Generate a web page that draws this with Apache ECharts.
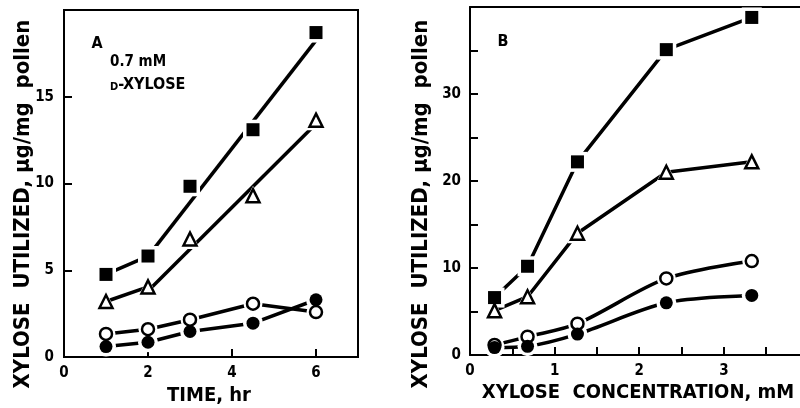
<!DOCTYPE html>
<html>
<head>
<meta charset="utf-8">
<script src="https://cdn.jsdelivr.net/npm/echarts@6/dist/echarts.min.js"></script>
<style>
html,body{margin:0;padding:0;background:#fff;}
#chart{width:800px;height:408px;}
</style>
</head>
<body>
<div id="chart"></div>
<script>
// panel A: time course at 0.7 mM D-xylose
var timeA = [1, 2, 3, 4.5, 6];
var aSquare = [4.76, 5.82, 9.84, 13.1, 18.7];
var aTriangle = [3.2, 4.04, 6.8, 9.3, 13.65];
var aOpen = [1.33, 1.6, 2.15, 3.07, 2.59];
var aFilled = [0.6, 0.85, 1.47, 1.95, 3.3];
// straight lines drawn through the 2-6 hr points
var fitX = [2, 6];
var aSquareFit = [5.8, 18.25];
var aTriangleFit = [3.8, 13.45];

// panel B: concentration dependence
var concB = [0.29, 0.68, 1.27, 2.32, 3.33];
var bSquare = [6.6, 10.2, 22.2, 35.1, 38.8];
var bTriangle = [5.1, 6.7, 14.0, 21.0, 22.2];
var bOpen = [1.15, 2.1, 3.6, 8.8, 10.8];
var bFilled = [0.85, 1.0, 2.4, 6.0, 6.85];

var FONT = "'DejaVu Sans Condensed', 'DejaVu Sans', sans-serif";

var marks = {
	square:   {symbol:'rect',     size:13, fill:'#000', border:0},
	triangle: {symbol:'triangle', size:13, fill:'#fff', border:2.5},
	open:     {symbol:'circle',   size:12, fill:'#fff', border:2.5},
	filled:   {symbol:'circle',   size:13, fill:'#000', border:0}
};

function pairs(xs, ys){
	var out = [];
	for(var i=0;i<xs.length;i++) out.push([xs[i], ys[i]]);
	return out;
}

function line(g, data, smooth){
	return {
		type:'line', xAxisIndex:g, yAxisIndex:g, data:data,
		showSymbol:false, smooth:smooth||false, z:2, silent:true,
		lineStyle:{color:'#000', width:3.5}
	};
}

// line + white halo (gap round the marker) + marker
function plotted(g, xs, ys, kind, withLine, smooth){
	var m = marks[kind];
	var data = pairs(xs, ys);
	var list = [];
	if(withLine) list.push(line(g, data, smooth));
	list.push({
		type:'scatter', xAxisIndex:g, yAxisIndex:g, data:data, z:3, silent:true,
		symbol:m.symbol, symbolSize:m.size+7, itemStyle:{color:'#fff', opacity:1}
	});
	list.push({
		type:'scatter', xAxisIndex:g, yAxisIndex:g, data:data, z:4, silent:true,
		symbol:m.symbol, symbolSize:m.size,
		itemStyle:{color:m.fill, borderColor:'#000', borderWidth:m.border, opacity:1}
	});
	return list;
}

function axisBase(){
	return {
		type:'value',
		axisLine:{show:true, lineStyle:{color:'#000', width:2}},
		axisTick:{show:true, inside:true, length:8, lineStyle:{color:'#000', width:2}},
		splitLine:{show:false},
		axisLabel:{color:'#000', fontFamily:FONT, fontWeight:'bold', fontSize:15, showMaxLabel:false}
	};
}

var xA = axisBase(); xA.gridIndex=0; xA.min=0; xA.max=7; xA.interval=2; xA.axisLabel.margin=9;
var yA = axisBase(); yA.gridIndex=0; yA.min=0; yA.max=20; yA.interval=5; yA.axisLabel.margin=10;
var xB = axisBase(); xB.gridIndex=1; xB.min=0; xB.max=3.9; xB.interval=0.5; xB.axisLabel.margin=9;
xB.axisLabel.formatter=function(v){return v%1===0 ? String(v) : '';};
var yB = axisBase(); yB.gridIndex=1; yB.min=0; yB.max=40; yB.interval=5; yB.axisLabel.margin=9;
yB.axisLabel.formatter=function(v){return v%10===0 ? String(v) : '';};
// plain top edge of panel B (frame is cut off on the right)
var xBTop = {
	type:'value', gridIndex:1, position:'top', min:0, max:3.9,
	axisLine:{show:true, lineStyle:{color:'#000', width:2}},
	axisTick:{show:false}, axisLabel:{show:false}, splitLine:{show:false}
};

var series = [].concat(
	[line(0, pairs(timeA.slice(0,2), aSquare.slice(0,2))), line(0, pairs(fitX, aSquareFit))],
	[line(0, pairs(timeA.slice(0,2), aTriangle.slice(0,2))), line(0, pairs(fitX, aTriangleFit))],
	plotted(0, timeA, aSquare, 'square', false),
	plotted(0, timeA, aTriangle, 'triangle', false),
	plotted(0, timeA, aOpen, 'open', true),
	plotted(0, timeA, aFilled, 'filled', true),
	plotted(1, concB, bSquare, 'square', true),
	plotted(1, concB, bTriangle, 'triangle', true),
	plotted(1, concB, bOpen, 'open', true, 0.3),
	plotted(1, concB, bFilled, 'filled', true, 0.3)
);

function txt(x, y, s, size, rot, align){
	return {
		type:'text', x:x, y:y, rotation:rot||0, silent:true,
		style:{
			text:s, fill:'#000', font:'bold '+size+'px '+FONT,
			align:align||'center', verticalAlign:'middle',
			rich:{sc:{font:'bold '+Math.round(size*0.7)+'px '+FONT, fill:'#000', verticalAlign:'bottom'}}
		}
	};
}

var myChart = echarts.init(document.getElementById('chart'), null, {renderer:'canvas'});
var option = {
	animation:false,
	backgroundColor:'#fff',
	grid:[
		{left:64, top:10, width:294, height:347, show:true, borderColor:'#000', borderWidth:2},
		{left:470, top:7, width:330, height:348}
	],
	xAxis:[xA, xB, xBTop],
	yAxis:[yA, yB],
	series:series,
	graphic:[
		txt(23, 204, 'XYLOSE  UTILIZED, \u03bcg/mg  pollen', 22, Math.PI/2),
		txt(421, 204, 'XYLOSE  UTILIZED, \u03bcg/mg  pollen', 22, Math.PI/2),
		txt(209, 396, 'TIME, hr', 20),
		txt(638, 393, 'XYLOSE  CONCENTRATION, mM', 20),
		txt(97, 44, 'A', 16),
		txt(110, 62, '0.7 mM', 15, 0, 'left'),
		txt(110, 85, '{sc|D}-XYLOSE', 16, 0, 'left'),
		txt(503, 42, 'B', 16)
	]
};
myChart.setOption(option);
</script>
</body>
</html>
